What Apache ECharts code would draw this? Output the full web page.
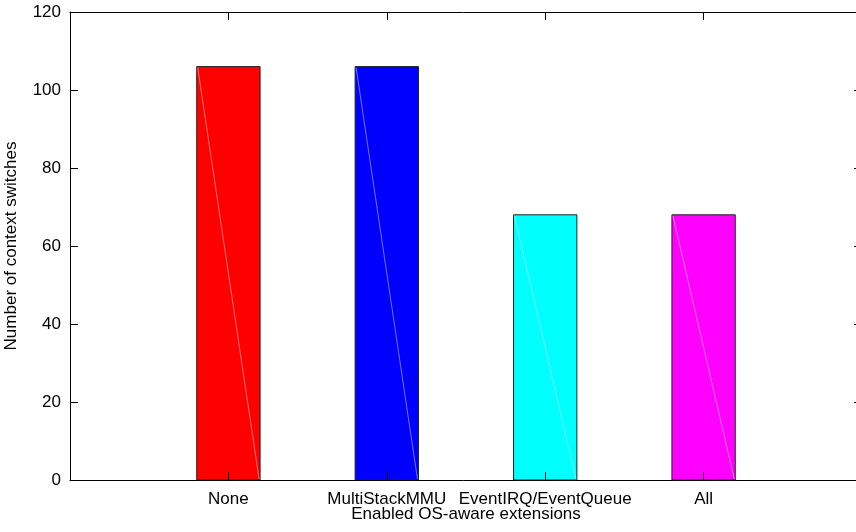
<!DOCTYPE html>
<html>
<head>
<meta charset="utf-8">
<script src="https://cdn.jsdelivr.net/npm/echarts@6/dist/echarts.min.js"></script>
<style>
html,body{margin:0;padding:0;background:#fff;}
#chart{width:856px;height:532px;}
</style>
</head>
<body>
<div id="chart"></div>
<script>
var categories = ['None', 'MultiStackMMU', 'EventIRQ/EventQueue', 'All'];
var values = [106, 106, 68, 68];
var barColors = ['#ff0000', '#0000ff', '#00ffff', '#ff00ff'];
var yTicks = [0, 20, 40, 60, 80, 100, 120];

var FONT = 'Liberation Sans, Arial, Helvetica, sans-serif';
var chart = echarts.init(document.getElementById('chart'));

var seriesData = values.map(function (v, i) { return [i + 1, v, i]; });

function tickCfg() {
  return { show: true, inside: true, length: 8, lineStyle: { color: '#000', width: 1 } };
}
function lineCfg() {
  return { show: true, onZero: false, lineStyle: { color: '#000', width: 1 } };
}

var option = {
  animation: false,
  backgroundColor: '#fff',
  grid: { left: 70, top: 12, width: 792, height: 468, containLabel: false, outerBoundsMode: 'none' },
  xAxis: [
    {
      type: 'value', min: 0, max: 5, interval: 1, position: 'bottom', z: 10,
      axisLine: lineCfg(),
      axisTick: tickCfg(),
      splitLine: { show: false },
      axisLabel: {
        show: true, margin: 11, color: '#000', fontSize: 17, fontFamily: FONT,
        showMinLabel: true, showMaxLabel: true,
        formatter: function (v) { var i = Math.round(v) - 1; return (i >= 0 && i < categories.length) ? categories[i] : ''; }
      },
      name: 'Enabled OS-aware extensions', nameLocation: 'middle', nameGap: 26, nameMoveOverlap: false,
      nameTextStyle: { color: '#000', fontSize: 17, fontFamily: FONT }
    },
    {
      type: 'value', min: 0, max: 5, interval: 1, position: 'top', z: 10,
      axisLine: lineCfg(),
      axisTick: tickCfg(),
      splitLine: { show: false },
      axisLabel: { show: false }
    }
  ],
  yAxis: [
    {
      type: 'value', min: 0, max: 120, interval: 20, position: 'left', z: 10,
      axisLine: lineCfg(),
      axisTick: tickCfg(),
      splitLine: { show: false },
      axisLabel: {
        color: '#000', fontSize: 17, fontFamily: FONT, margin: 9,
        formatter: function (v) { return yTicks.indexOf(v) >= 0 ? String(v) : ''; }
      },
      name: 'Number of context switches', nameLocation: 'middle', nameGap: 50, nameRotate: 90,
      nameMoveOverlap: false,
      nameTextStyle: { color: '#000', fontSize: 17, fontFamily: FONT }
    },
    {
      type: 'value', min: 0, max: 120, interval: 20, position: 'right', z: 10,
      axisLine: lineCfg(),
      axisTick: tickCfg(),
      splitLine: { show: false },
      axisLabel: { show: false }
    }
  ],
  series: [
    {
      type: 'custom',
      xAxisIndex: 0, yAxisIndex: 0, z: 2,
      data: seriesData,
      renderItem: function (params, api) {
        var x = api.value(0), v = api.value(1), idx = api.value(2);
        var top = api.coord([x, v]);
        var bot = api.coord([x, 0]);
        var w = api.size([0.4, 0])[0];
        var x0 = top[0] - w / 2;
        return {
          type: 'group',
          children: [
            {
              type: 'rect',
              shape: { x: x0, y: top[1], width: w, height: bot[1] - top[1] },
              style: { fill: barColors[idx], stroke: '#222', lineWidth: 1 }
            },
            {
              type: 'line',
              shape: { x1: x0 + 1, y1: top[1] + 1, x2: x0 + w - 1, y2: bot[1] - 1 },
              style: { stroke: 'rgba(255,255,255,0.45)', lineWidth: 1 }
            }
          ]
        };
      }
    }
  ]
};
chart.setOption(option);
</script>
</body>
</html>
